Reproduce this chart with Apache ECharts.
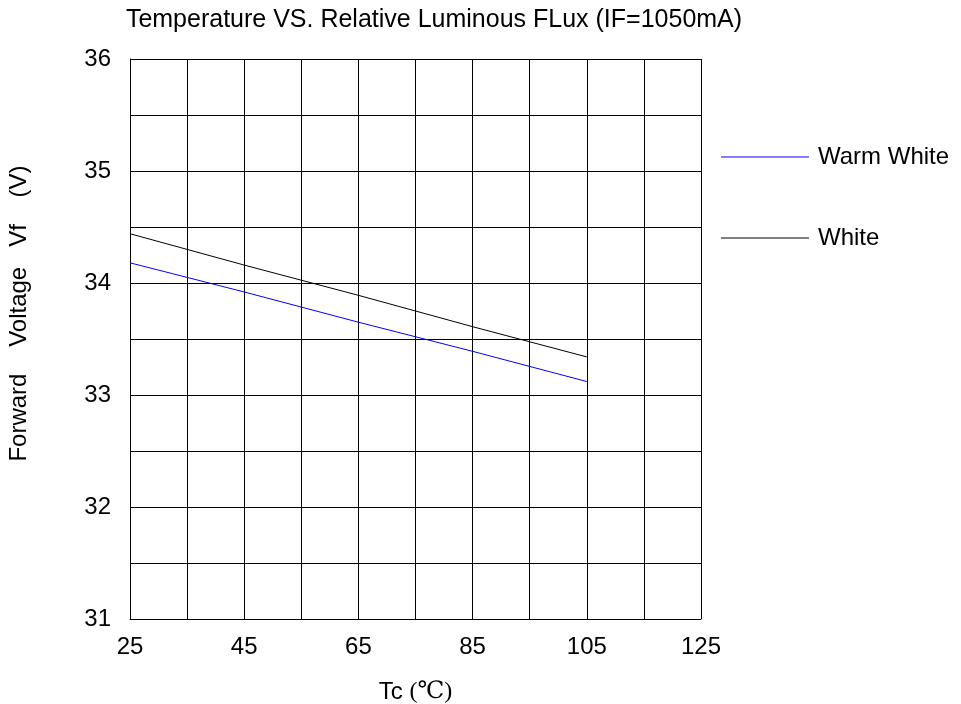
<!DOCTYPE html>
<html><head><meta charset="utf-8">
<script src="https://cdn.jsdelivr.net/npm/echarts@6/dist/echarts.min.js"></script>
<style>html,body{margin:0;padding:0;background:#fff}#c{width:961px;height:704px}</style>
</head><body><div id="c"></div>
<script>
const temps = [25, 45, 65, 85, 105];
const warmWhite = [34.18, 33.92, 33.65, 33.39, 33.12];
const white = [34.44, 34.16, 33.89, 33.61, 33.34];
const seriesNames = ['Warm White', 'White'];
const titleText = 'Temperature VS. Relative Luminous FLux (IF=1050mA)';
const xName = 'Tc {s|(\u2103)}';
const yName = 'Forward    Voltage   Vf    (V)';

const font = 'Liberation Sans, Arial, sans-serif';
const chart = echarts.init(document.getElementById('c'));
chart.setOption({
  animation: false,
  backgroundColor: '#fff',
  title: { text: titleText, left: 429, top: 3, textAlign: 'center',
    textStyle: { fontFamily: font, fontSize: 25, fontWeight: 'normal', color: '#000' } },
  legend: { orient: 'vertical', left: 721, top: 145, padding: 0, itemWidth: 88, itemHeight: 1, itemGap: 57,
    icon: 'rect',
    textStyle: { fontFamily: font, fontSize: 24, color: '#000', padding: [0,0,0,4] },
    data: seriesNames },
  grid: { left: 130, top: 59, right: 260, bottom: 85, containLabel: false, outerBoundsMode: 'none' },
  xAxis: { type: 'value', min: 25, max: 125, interval: 10,
    name: xName, nameLocation: 'middle', nameGap: 61,
    nameTextStyle: { fontFamily: font, fontSize: 24, color: '#000',
      rich: { s: { fontFamily: 'Liberation Serif, DejaVu Serif, serif', fontSize: 24, color: '#000' } } },
    axisLine: { show: true, lineStyle: { color: '#000', width: 1 } },
    axisTick: { show: false },
    axisLabel: { margin: 16, fontFamily: font, fontSize: 24, color: '#000',
      formatter: v => ((v - 25) % 20 === 0 ? String(v) : '') },
    splitLine: { show: true, lineStyle: { color: '#000', width: 1 } } },
  yAxis: { type: 'value', min: 31, max: 36, interval: 0.5,
    name: yName, nameLocation: 'middle', nameGap: 99, nameRotate: 90,
    nameTextStyle: { fontFamily: font, fontSize: 24, color: '#000', padding: [0,0,0,51] },
    axisLine: { show: true, lineStyle: { color: '#000', width: 1 } },
    axisTick: { show: false },
    axisLabel: { margin: 19, fontFamily: font, fontSize: 24, color: '#000',
      formatter: v => (Number.isInteger(v) ? String(v) : '') },
    splitLine: { show: true, lineStyle: { color: '#000', width: 1 } } },
  series: [
    { name: seriesNames[0], type: 'line', symbol: 'none', color: '#0000ff',
      lineStyle: { color: '#0000ff', width: 1 },
      data: temps.map((t, i) => [t, warmWhite[i]]) },
    { name: seriesNames[1], type: 'line', symbol: 'none', color: '#000',
      lineStyle: { color: '#000', width: 1 },
      data: temps.map((t, i) => [t, white[i]]) }
  ]
});
</script></body></html>
